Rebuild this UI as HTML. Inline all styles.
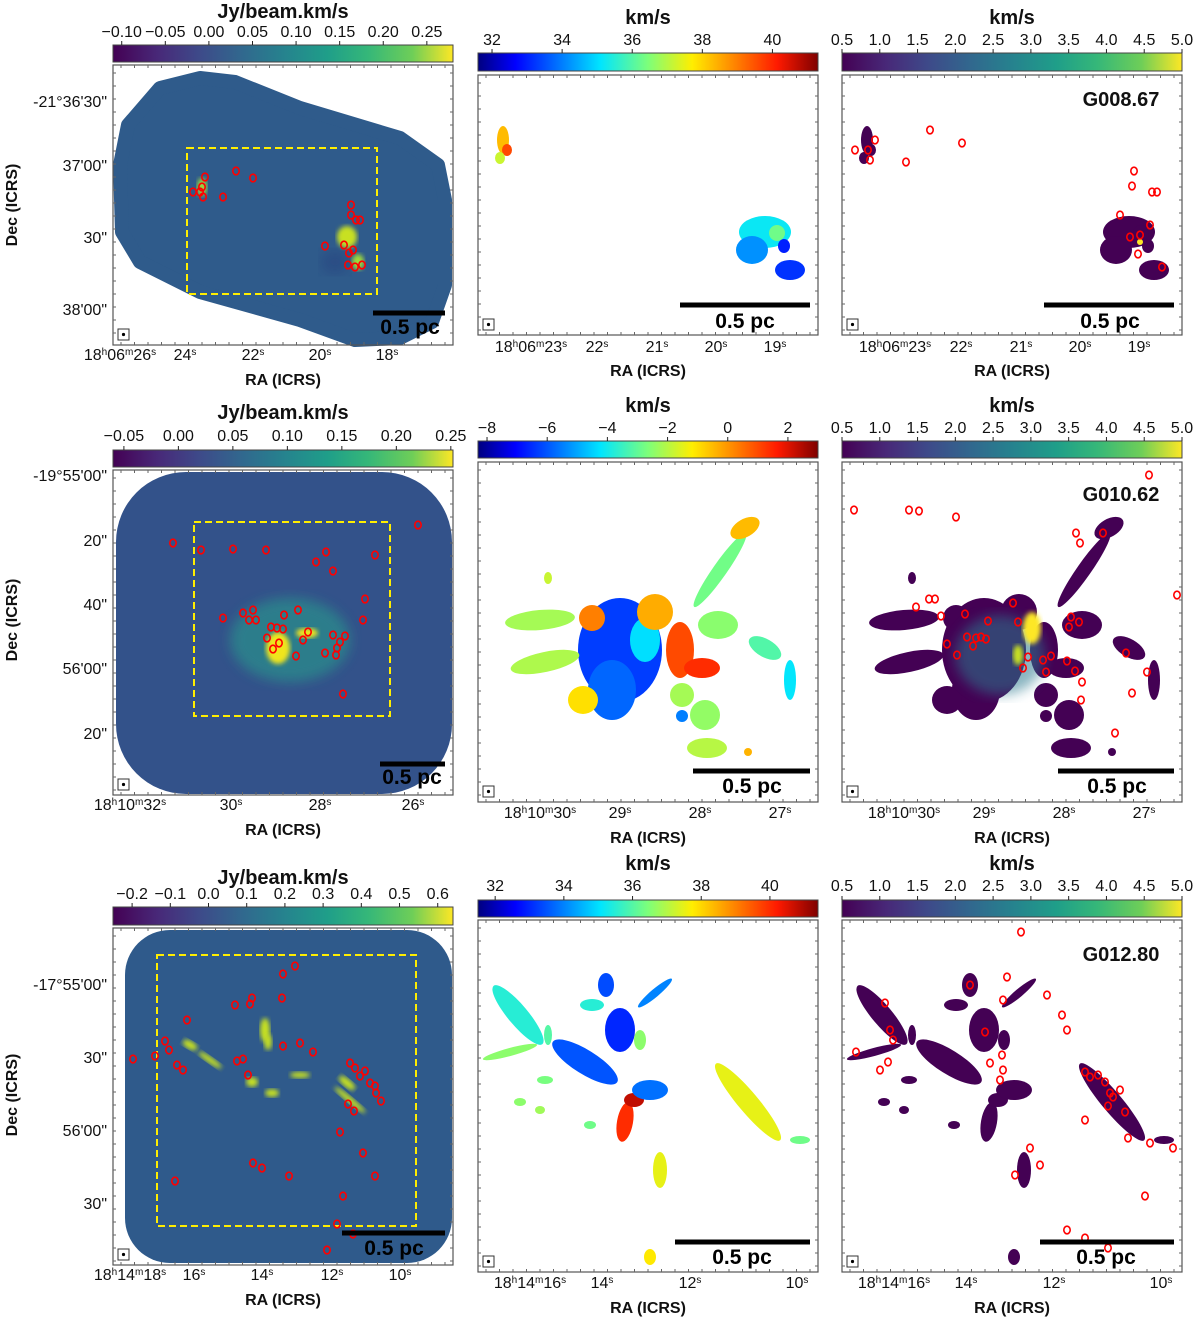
<!DOCTYPE html>
<html><head><meta charset="utf-8">
<style>
html,body{margin:0;padding:0;background:#fff;}
svg{display:block;font-family:"Liberation Sans","DejaVu Sans",sans-serif;}
.tl{font-size:16px;fill:#111;}
.ttl{font-size:20px;font-weight:bold;fill:#111;}
.ax{font-size:16px;font-weight:bold;fill:#111;}
.sb{font-size:21px;font-weight:bold;fill:#000;}
</style></head>
<body>
<svg id="fig" width="1200" height="1323" viewBox="0 0 1200 1323">
<defs>
<linearGradient id="viridis" x1="0" x2="1" y1="0" y2="0">
<stop offset="0" stop-color="#440154"/><stop offset="0.13" stop-color="#482878"/><stop offset="0.25" stop-color="#3e4989"/><stop offset="0.38" stop-color="#31688e"/><stop offset="0.5" stop-color="#26828e"/><stop offset="0.63" stop-color="#1f9e89"/><stop offset="0.75" stop-color="#35b779"/><stop offset="0.88" stop-color="#6ece58"/><stop offset="1" stop-color="#fde725"/>
</linearGradient>
<linearGradient id="jet" x1="0" x2="1" y1="0" y2="0">
<stop offset="0" stop-color="#00007f"/><stop offset="0.11" stop-color="#0000ff"/><stop offset="0.36" stop-color="#00e5ff"/><stop offset="0.5" stop-color="#7dff7a"/><stop offset="0.63" stop-color="#ffee00"/><stop offset="0.88" stop-color="#ff1a00"/><stop offset="1" stop-color="#7f0000"/>
</linearGradient>
<filter id="blur2"><feGaussianBlur stdDeviation="2.5"/></filter>
<filter id="blur6"><feGaussianBlur stdDeviation="6"/></filter>
</defs>
<g id="root"></g>
</svg>
<script>
// ---- colorbar data ----
const cb1Ticks = ["\u22120.10","\u22120.05","0.00","0.05","0.10","0.15","0.20","0.25"];
const cb1Vals = [-0.10,-0.05,0,0.05,0.10,0.15,0.20,0.25];
const cb2Vals = [32,34,36,38,40];
const cb3Vals = [0.5,1.0,1.5,2.0,2.5,3.0,3.5,4.0,4.5,5.0];
const cb4Vals = [-0.05,0,0.05,0.10,0.15,0.20,0.25];
const cb5Vals = [-8,-6,-4,-2,0,2];
const cb7Vals = [-0.2,-0.1,0.0,0.1,0.2,0.3,0.4,0.5,0.6];
const cb8Vals = [32,34,36,38,40];
// velocity blobs: [cx, cy, rx, ry, angle, velocity] (middle-column positions)
const vel1 = [[503,140,6,14,0,38.3],[507,150,5,6,0,39.6],[500,158,5,6,0,37.2],[765,232,26,16,0,35.2],[752,250,16,14,0,34.2],[790,270,15,10,0,33.2],[784,246,6,7,0,33],[777,233,8,8,0,36.3]];
const vel2 = [[620,650,42,52,0,-6.3],[612,690,24,30,0,-5.8],[645,640,15,22,0,-4.3],[655,612,18,18,0,-0.3],[680,650,14,28,0,1.0],[702,668,18,10,0,1.4],[720,570,45,7,-55,-2.8],[745,528,16,9,-30,-0.5],[540,620,35,10,-5,-2.2],[592,618,13,13,0,0.3],[545,662,35,10,-12,-2.1],[583,700,15,14,0,-1.0],[718,625,20,14,0,-2.5],[765,648,18,9,30,-3.2],[790,680,6,20,0,-4.2],[705,715,15,15,0,-2.4],[707,748,20,10,0,-2.0],[682,695,12,12,0,-2.2],[748,752,4,4,0,-0.4],[682,716,6,6,0,-5.5],[548,578,4,6,0,-1.8]];
const vel3 = [[518,1015,38,10,50,35.5],[585,1062,38,12,32,33.5],[510,1052,28,4,-15,36.6],[620,1030,15,22,0,33],[655,993,22,4,-40,34],[606,985,8,12,0,33.4],[625,1122,8,20,10,40],[634,1100,10,7,0,40.8],[650,1090,18,10,0,33.8],[748,1102,50,10,50,37.5],[660,1170,7,18,0,37.5],[650,1257,6,8,0,37.8],[545,1080,8,4,0,36.4],[520,1102,6,4,0,36.6],[800,1140,10,4,0,36.3],[592,1005,12,6,0,35.5],[640,1040,6,10,0,36.6],[548,1035,4,10,0,36],[590,1125,6,4,0,36.3],[540,1110,5,4,0,36.8]];
// sources in dispersion panels [x,y] offsets from panel origin
const src1 = [[33,65],[28,85],[26,75],[13,75],[88,55],[120,68],[64,87],[292,96],[290,111],[310,117],[315,117],[278,140],[288,162],[298,160],[308,150],[296,179],[320,192]];
const src2 = [[12,48],[67,48],[77,49],[114,55],[307,13],[234,71],[238,81],[261,71],[335,133],[87,137],[93,137],[74,145],[99,154],[123,152],[171,141],[146,159],[176,160],[229,155],[237,160],[227,165],[125,175],[134,176],[139,175],[144,177],[131,184],[105,182],[115,193],[186,195],[181,206],[201,198],[209,194],[225,199],[204,210],[233,209],[284,191],[305,210],[240,220],[290,231],[239,238],[273,271]];
const src3 = [[179,12],[165,57],[161,80],[128,65],[205,75],[43,83],[48,110],[51,120],[14,132],[46,142],[38,150],[143,112],[160,135],[161,150],[158,160],[148,143],[220,95],[225,110],[243,152],[248,157],[256,155],[263,162],[268,173],[271,177],[278,170],[266,186],[283,192],[243,200],[308,223],[331,228],[303,276],[243,318],[225,310],[188,228],[198,245],[173,255],[266,328],[286,218]];

const root = document.getElementById('root');
const NS = 'http://www.w3.org/2000/svg';
function mk(tag, attrs, parent){const e=document.createElementNS(NS,tag);for(const k in attrs)e.setAttribute(k,attrs[k]);(parent||root).appendChild(e);return e;}
function txt(s,x,y,cls,anchor,parent){const t=mk('text',{x:x,y:y,class:cls,'text-anchor':anchor||'middle'},parent);t.textContent=s;return t;}

const jetStops=[[0,[0,0,127]],[0.11,[0,0,255]],[0.36,[0,229,255]],[0.5,[125,255,122]],[0.63,[255,238,0]],[0.88,[255,26,0]],[1,[127,0,0]]];
function jet(f){f=Math.max(0,Math.min(1,f));for(let i=1;i<jetStops.length;i++){if(f<=jetStops[i][0]){const a=jetStops[i-1],b=jetStops[i];const t=(f-a[0])/(b[0]-a[0]);const c=a[1].map((v,k)=>Math.round(v+(b[1][k]-v)*t));return `rgb(${c})`;}}return 'rgb(127,0,0)';}

function colorbar(name,x,y,w,h,grad,vals,labels,vmin,vmax,title,labY,titY){
  const g=mk('g',{});
  
  
  mk('rect',{x:x,y:y,width:w,height:h,fill:`url(#${grad})`,stroke:'#444','stroke-width':1},g);
  const sx=v=>x+(v-vmin)/(vmax-vmin)*w;
  vals.forEach((v,i)=>{const px=sx(v);mk('line',{x1:px,x2:px,y1:y-4,y2:y,stroke:'#222'},g);txt(labels?labels[i]:String(v).replace('-','\u2212'),px,labY,'tl','middle',g);});
  const tt=txt(title,x+w/2,titY,'ttl','middle',g);
  
  
}
function frame(name,x,y,w,h){
  const g=mk('g',{});
  
  
  mk('rect',{x:x,y:y,width:w,height:h,fill:'none',stroke:'#555','stroke-width':1.2},g);
  for(let xx=x+8;xx<x+w;xx+=13.5){mk('line',{x1:xx,x2:xx,y1:y+h,y2:y+h-3,stroke:'#666'},g);mk('line',{x1:xx,x2:xx,y1:y,y2:y+3,stroke:'#666'},g);}
  for(let yy=y+8;yy<y+h;yy+=13){mk('line',{x1:x,x2:x+3,y1:yy,y2:yy,stroke:'#666'},g);mk('line',{x1:x+w,x2:x+w-3,y1:yy,y2:yy,stroke:'#666'},g);}
  mk('rect',{x:x+5,y:y+h-16,width:11,height:11,fill:'none',stroke:'#333'},g);
  mk('circle',{cx:x+10.5,cy:y+h-10.5,r:1.6,fill:'#000'},g);
}
function scalebar(name,x1,x2,y,tx,ty){
  const g=mk('g',{});
  
  
  mk('rect',{x:x1,y:y-2.5,width:x2-x1,height:5,fill:'#000'},g);
  txt('0.5 pc',tx,ty,'sb','middle',g);
}
// R(['18','h','06','m','26','s']) -> alternating base / superscript
function R(parts){let s='';parts.forEach((p,i)=>{s+= i%2===0 ? `<tspan>${p}</tspan>` : `<tspan baseline-shift="super" font-size="10">${p}</tspan>`;});return s;}
function raLabels(list,y){list.forEach(([s,x])=>{const t=mk('text',{x:x,y:y,class:'tl','text-anchor':'middle'});t.innerHTML=R(s);});}
function axisTitles(cx,y,decY,withDec){
  const r=txt('RA (ICRS)',cx,y,'ax');
  
  
  if(withDec){const d=mk('text',{x:0,y:0,class:'ax','text-anchor':'middle',transform:`translate(17,${decY}) rotate(-90)`});d.textContent='Dec (ICRS)';
  
  }
}
function sources(list,ox,oy){list.forEach(([x,y])=>{const c=mk('ellipse',{cx:ox+x,cy:oy+y,rx:3.2,ry:3.8,fill:'none',stroke:'#f00','stroke-width':1.6});
  
  });}
function velBlobs(list,vmin,vmax,name){
  const g=mk('g',{});
  list.forEach(([x,y,rx,ry,a,v])=>{const e=mk('ellipse',{cx:x,cy:y,rx:rx,ry:ry,transform:`rotate(${a} ${x} ${y})`,fill:jet((v-vmin)/(vmax-vmin))},g);
  
  });
}
function dispBlobs(list,dx,name){
  const g=mk('g',{});
  list.forEach(([x,y,rx,ry,a])=>{const e=mk('ellipse',{cx:x+dx,cy:y,rx:rx,ry:ry,transform:`rotate(${a} ${x+dx} ${y})`,fill:'#440154'},g);
  
  });
}
function decLabels(list){list.forEach(([s,y])=>txt(s,107,y+5,'tl','end'));}

// ===== Row 1 =====
colorbar('intensity-colorbar-1',113,45,340,17,'viridis',cb1Vals,cb1Ticks,-0.11,0.28,'Jy/beam.km/s',37,18);
mk('path',{d:'M128,125 L160,88 L200,78 L235,82 L300,108 L400,138 L438,165 L445,200 L445,285 L432,322 L400,338 L355,340 L300,320 L200,292 L140,262 L122,232 L120,165 Z',fill:'#2f5b8b',stroke:'#2f5b8b','stroke-width':14,'stroke-linejoin':'round'});
mk('ellipse',{cx:335,cy:262,rx:14,ry:12,fill:'#25407f',opacity:0.5,filter:'url(#blur6)'});
mk('ellipse',{cx:202,cy:187,rx:5,ry:9,fill:'#9bd93c',filter:'url(#blur2)'});
mk('ellipse',{cx:347,cy:237,rx:10,ry:11,fill:'#c8e020',filter:'url(#blur2)'});
mk('ellipse',{cx:358,cy:262,rx:6,ry:8,fill:'#a0da39',filter:'url(#blur2)'});
mk('rect',{x:187,y:148,width:190,height:146,fill:'none',stroke:'#ffee00','stroke-width':2,'stroke-dasharray':'7,4'});
sources([[92,112],[89,122],[87,127],[90,132],[80,127],[123,106],[140,113],[110,132],[238,140],[238,150],[243,155],[247,155],[231,180],[236,188],[240,185],[242,202],[249,200],[212,181],[235,200]],113,65);
frame('intensity-panel-1',113,65,340,280);
scalebar('scale-bar-1',373,445,313,410,334);
decLabels([['-21°36\'30"',102],['37\'00"',166],['30"',238],['38\'00"',310]]);
raLabels([[['18','h','06','m','26','s'],120],[['24','s'],185],[['22','s'],253],[['20','s'],320],[['18','s'],387]],360);
axisTitles(283,385,205,true);

colorbar('velocity-colorbar-1',478,53,340,18,'jet',cb2Vals,null,31.6,41.3,'km/s',45,24);
velBlobs(vel1,31.6,41.3,'velocity-map-1');
frame('velocity-panel-1',478,75,340,260);
scalebar('scale-bar-2',680,810,305,745,328);
raLabels([[['18','h','06','m','23','s'],531],[['22','s'],597],[['21','s'],657],[['20','s'],716],[['19','s'],775]],352);
axisTitles(648,376,0,false);

colorbar('dispersion-colorbar-1',842,53,340,18,'viridis',cb3Vals,['0.5','1.0','1.5','2.0','2.5','3.0','3.5','4.0','4.5','5.0'],0.5,5.0,'km/s',45,24);
dispBlobs(vel1,364,'dispersion-map-1');
mk('circle',{cx:1140,cy:242,r:3,fill:'#fde725'});
sources(src1,842,75);
frame('dispersion-panel-1',842,75,340,260);
scalebar('scale-bar-3',1044,1174,305,1110,328);
txt('G008.67',1121,106,'ttl');
raLabels([[['18','h','06','m','23','s'],895],[['22','s'],961],[['21','s'],1021],[['20','s'],1080],[['19','s'],1139]],352);
axisTitles(1012,376,0,false);

// ===== Row 2 =====
colorbar('intensity-colorbar-2',113,450,340,17,'viridis',cb4Vals,['\u22120.05','0.00','0.05','0.10','0.15','0.20','0.25'],-0.06,0.252,'Jy/beam.km/s',441,419);
mk('rect',{x:116,y:472,width:336,height:322,rx:70,fill:'#33528a'});
mk('ellipse',{cx:290,cy:640,rx:60,ry:42,fill:'#2c8c8c',filter:'url(#blur6)',opacity:0.75});
mk('ellipse',{cx:278,cy:648,rx:12,ry:16,fill:'#f0e51f',filter:'url(#blur2)'});
mk('ellipse',{cx:307,cy:633,rx:11,ry:5,fill:'#f0e51f',filter:'url(#blur2)'});
mk('rect',{x:194,y:522,width:196,height:194,fill:'none',stroke:'#ffee00','stroke-width':2,'stroke-dasharray':'7,4'});
sources([[60,73],[88,80],[120,79],[153,80],[213,82],[203,92],[220,101],[305,55],[262,85],[212,183],[224,178],[252,129],[250,150],[185,140],[171,145],[130,143],[140,140],[143,150],[158,157],[164,158],[170,159],[154,168],[166,173],[160,179],[195,162],[220,165],[232,166],[227,172],[223,185],[190,170],[183,186],[230,224],[136,150],[110,148]],113,470);
frame('intensity-panel-2',113,470,340,325);
scalebar('scale-bar-4',380,445,764,412,784);
decLabels([['-19°55\'00"',476],['20"',541],['40"',605],['56\'00"',669],['20"',734]]);
raLabels([[['18','h','10','m','32','s'],130],[['30','s'],231],[['28','s'],320],[['26','s'],413]],810);
axisTitles(283,835,620,true);

colorbar('velocity-colorbar-2',478,441,340,17,'jet',cb5Vals,null,-8.3,3.0,'km/s',433,412);
velBlobs(vel2,-8.3,3.0,'velocity-map-2');
frame('velocity-panel-2',478,462,340,340);
scalebar('scale-bar-5',693,810,771,752,793);
raLabels([[['18','h','10','m','30','s'],540],[['29','s'],620],[['28','s'],700],[['27','s'],780]],818);
axisTitles(648,843,0,false);

colorbar('dispersion-colorbar-2',842,441,340,17,'viridis',cb3Vals,['0.5','1.0','1.5','2.0','2.5','3.0','3.5','4.0','4.5','5.0'],0.5,5.0,'km/s',433,412);
dispBlobs(vel2,364,'dispersion-map-2');
mk('ellipse',{cx:1000,cy:655,rx:45,ry:40,fill:'#2a788e',opacity:0.55,filter:'url(#blur6)'});
mk('ellipse',{cx:1032,cy:628,rx:9,ry:16,fill:'#fde725',filter:'url(#blur2)'});
mk('ellipse',{cx:1018,cy:655,rx:5,ry:10,fill:'#c8e020',filter:'url(#blur2)'});
sources(src2,842,462);
frame('dispersion-panel-2',842,462,340,340);
scalebar('scale-bar-6',1058,1174,771,1117,793);
txt('G010.62',1121,501,'ttl');
raLabels([[['18','h','10','m','30','s'],904],[['29','s'],984],[['28','s'],1064],[['27','s'],1144]],818);
axisTitles(1012,843,0,false);

// ===== Row 3 =====
colorbar('intensity-colorbar-3',113,907,340,18,'viridis',cb7Vals,['\u22120.2','\u22120.1','0.0','0.1','0.2','0.3','0.4','0.5','0.6'],-0.25,0.64,'Jy/beam.km/s',899,884);
mk('rect',{x:125,y:930,width:327,height:333,rx:45,fill:'#2f5a8b'});
[[265,1030,5,12,0],[268,1042,4,8,0],[252,1082,6,5,0],[272,1093,7,4,0],[347,1083,10,4,40],[190,1045,8,4,30],[210,1060,14,3,35],[300,1075,10,3,0],[350,1100,20,3,40]].forEach(([x,y,a,b,r])=>mk('ellipse',{cx:x,cy:y,rx:a,ry:b,transform:`rotate(${r} ${x} ${y})`,fill:'#c6e021',filter:'url(#blur2)'}));
mk('rect',{x:157,y:955,width:259,height:271,fill:'none',stroke:'#ffee00','stroke-width':2,'stroke-dasharray':'7,4'});
sources([[182,38],[170,46],[122,77],[137,76],[139,70],[169,70],[74,92],[52,113],[56,122],[20,131],[42,128],[64,137],[70,142],[124,133],[130,131],[135,147],[170,118],[187,115],[200,124],[237,135],[242,140],[252,143],[247,148],[257,155],[262,158],[263,165],[268,173],[235,176],[241,183],[227,204],[250,225],[140,235],[149,240],[176,248],[262,248],[230,268],[62,253],[224,296],[240,306],[214,322]],113,928);
frame('intensity-panel-3',113,928,340,337);
scalebar('scale-bar-7',342,445,1233,394,1255);
decLabels([['-17°55\'00"',985],['30"',1058],['56\'00"',1131],['30"',1204]]);
raLabels([[['18','h','14','m','18','s'],130],[['16','s'],194],[['14','s'],262],[['12','s'],332],[['10','s'],400]],1280);
axisTitles(283,1305,1095,true);

colorbar('velocity-colorbar-3',478,900,340,17,'jet',cb8Vals,null,31.5,41.4,'km/s',891,870);
velBlobs(vel3,31.5,41.4,'velocity-map-3');
frame('velocity-panel-3',478,920,340,352);
scalebar('scale-bar-8',675,810,1242,742,1264);
raLabels([[['18','h','14','m','16','s'],530],[['14','s'],602],[['12','s'],690],[['10','s'],797]],1288);
axisTitles(648,1313,0,false);

colorbar('dispersion-colorbar-3',842,900,340,17,'viridis',cb3Vals,['0.5','1.0','1.5','2.0','2.5','3.0','3.5','4.0','4.5','5.0'],0.5,5.0,'km/s',891,870);
dispBlobs(vel3,364,'dispersion-map-3');
sources(src3,842,920);
frame('dispersion-panel-3',842,920,340,352);
scalebar('scale-bar-9',1040,1174,1242,1106,1264);
txt('G012.80',1121,961,'ttl');
raLabels([[['18','h','14','m','16','s'],894],[['14','s'],966],[['12','s'],1054],[['10','s'],1161]],1288);
axisTitles(1012,1313,0,false);
</script>
</body></html>
